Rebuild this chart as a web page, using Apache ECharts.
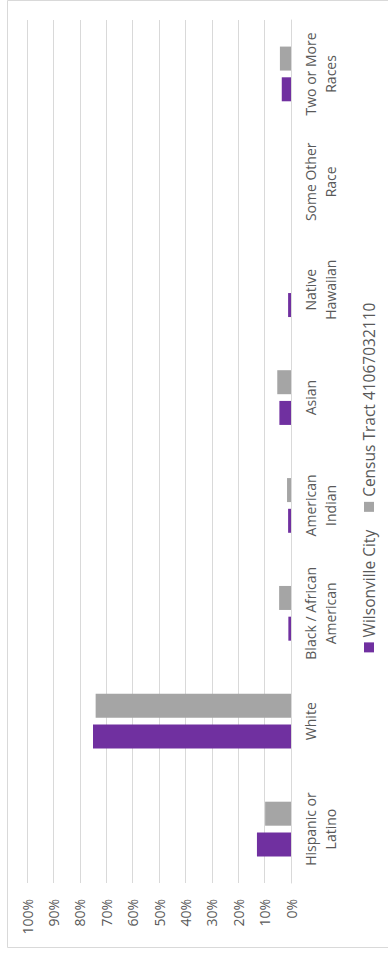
<!DOCTYPE html>
<html>
<head>
<meta charset="utf-8">
<script src="https://cdn.jsdelivr.net/npm/echarts@6/dist/echarts.min.js"></script>
<style>
  html, body { margin: 0; padding: 0; background: #ffffff; }
  body { width: 388px; height: 955px; overflow: hidden; position: relative; }
  /* The column chart is laid out landscape, then turned a quarter turn
     counter-clockwise so it reads bottom-to-top on the portrait page. */
  #chart {
    position: absolute; left: 0; top: 0;
    width: 955px; height: 388px;
    transform-origin: 0 0;
    transform: translateY(955px) rotate(-90deg);
  }
</style>
</head>
<body>
<div id="chart"></div>
<script>
// Race / ethnicity categories (line breaks as shown on the axis)
const categories = [
  'Hispanic or\nLatino',
  'White',
  'Black / African\nAmerican',
  'American\nIndian',
  'Asian',
  'Native\nHawaiian',
  'Some Other\nRace',
  'Two or More\nRaces'
];

// Share of population, in percent
const wilsonvilleCity = [12.9, 75.0, 1.0, 1.1, 4.4, 1.1, 0, 3.5];
const censusTract     = [9.8, 74.0, 4.5, 1.5, 5.2, 0, 0, 4.2];

const seriesNames = ['Wilsonville City', 'Census Tract 41067032110'];

const FONT = '"Open Sans", "Noto Sans", sans-serif';
const TEXT = '#595959';
const GRID = '#D9D9D9';

const chart = echarts.init(document.getElementById('chart'), null, { renderer: 'svg' });

chart.setOption({
  animation: false,
  backgroundColor: '#ffffff',
  textStyle: { fontFamily: FONT },
  graphic: [{
    type: 'rect',
    silent: true,
    shape: { x: 7.5, y: 7.5, width: 947, height: 400 },
    style: { fill: 'none', stroke: GRID, lineWidth: 1 }
  }],
  grid: { left: 72, right: 20, top: 27, bottom: 97, containLabel: false },
  legend: {
    data: seriesNames,
    left: 'center',
    top: 356,
    icon: 'rect',
    itemWidth: 10,
    itemHeight: 10,
    itemGap: 18,
    textStyle: { color: TEXT, fontSize: 15.5, fontFamily: FONT }
  },
  xAxis: {
    type: 'category',
    data: categories,
    axisLine: { show: true, lineStyle: { color: GRID, width: 1 } },
    axisTick: { show: false },
    axisLabel: {
      interval: 0,
      color: TEXT,
      fontSize: 14,
      lineHeight: 20,
      margin: 9,
      fontFamily: FONT
    }
  },
  yAxis: {
    type: 'value',
    min: 0,
    max: 100,
    interval: 10,
    axisLine: { show: false },
    axisTick: { show: false },
    splitLine: { lineStyle: { color: GRID, width: 1 } },
    axisLabel: {
      formatter: '{value}%',
      color: TEXT,
      fontSize: 14,
      margin: 16,
      fontFamily: FONT
    }
  },
  series: [
    {
      name: seriesNames[0],
      type: 'bar',
      data: wilsonvilleCity,
      barWidth: 24,
      barGap: '28%',
      itemStyle: { color: '#7030A0' }
    },
    {
      name: seriesNames[1],
      type: 'bar',
      data: censusTract,
      barWidth: 24,
      barGap: '28%',
      itemStyle: { color: '#A5A5A5' }
    }
  ]
});
</script>
</body>
</html>
